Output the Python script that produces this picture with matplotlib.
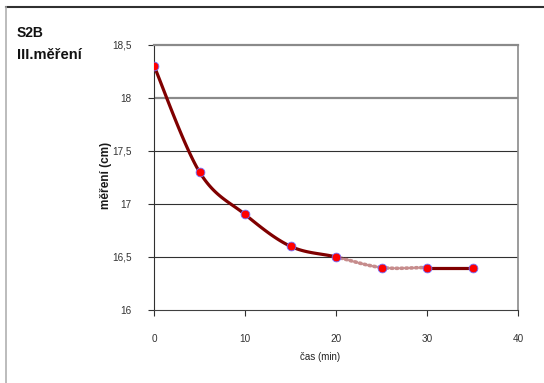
import matplotlib.pyplot as plt
import numpy as np
from matplotlib.lines import Line2D

plt.rcParams['font.family'] = ['Liberation Sans', 'DejaVu Sans']

cas = [0, 5, 10, 15, 20, 25, 30, 35]
mereni = [18.3, 17.3, 16.9, 16.6, 16.5, 16.4, 16.4, 16.4]
y_ticks = [16, 16.5, 17, 17.5, 18, 18.5]
y_labels = ['16', '16,5', '17', '17,5', '18', '18,5']
x_ticks = [0, 10, 20, 30, 40]


def hladka_krivka(x, y, n=40):
    # Bezierovy useky jako "vyhlazena cara" v Excelu
    p = np.column_stack([x, y]).astype(float)
    useky = []
    for i in range(len(p) - 1):
        p0 = p[i - 1] if i > 0 else p[i]
        p3 = p[i + 2] if i + 2 < len(p) else p[i + 1]
        c1 = p[i] + (p[i + 1] - p0) / 6
        c2 = p[i + 1] - (p3 - p[i]) / 6
        t = np.linspace(0, 1, n)[:, None]
        b = ((1 - t) ** 3 * p[i] + 3 * (1 - t) ** 2 * t * c1
             + 3 * (1 - t) * t ** 2 * c2 + t ** 3 * p[i + 1])
        useky.append(b)
    return useky


fig = plt.figure(figsize=(5.44, 3.83), dpi=100)
ax = fig.add_axes([154 / 544, 73 / 383, 364 / 544, 265.5 / 383])

useky = hladka_krivka(cas, mereni)
for i, b in enumerate(useky):
    if i in (4, 5):
        ax.plot(b[:, 0], b[:, 1], color='#a04040', lw=2.6,
                linestyle=(0, (0.45, 0.9)), dash_capstyle='round',
                alpha=0.6, zorder=3)
    else:
        ax.plot(b[:, 0], b[:, 1], color='#800000', lw=2.3,
                solid_capstyle='round', zorder=3)

ax.plot(cas, mereni, linestyle='none', marker='o', markersize=6.3,
        markerfacecolor='#ff0000', markeredgecolor='#7070ff',
        markeredgewidth=0.6, zorder=4)

ax.set_xlim(0, 40)
ax.set_ylim(16, 18.5)
ax.set_xticks(x_ticks)
ax.set_yticks(y_ticks)
ax.set_yticklabels(y_labels)

# vodorovna mrizka
for yv in y_ticks[1:-1]:
    if yv == 18:
        ax.axhline(yv, color='#8a8a8a', lw=1.6, zorder=1)
    else:
        ax.axhline(yv, color='#303030', lw=0.8, zorder=1)

ax.spines['top'].set_color('#8a8a8a')
ax.spines['top'].set_linewidth(1.6)
ax.spines['right'].set_color('#8a8a8a')
ax.spines['right'].set_linewidth(1.2)
ax.spines['bottom'].set_color('#404040')
ax.spines['left'].set_color('#303030')

ax.tick_params(axis='both', direction='out', length=4, width=0.8,
               colors='#303030', labelsize=7.2, labelcolor='#333333')
ax.tick_params(axis='y', pad=12)
ax.tick_params(axis='x', pad=13)

fig.text(320 / 544, 1 - 357 / 383, 'čas (min)', ha='center', va='center',
         fontsize=7, color='#222222')
fig.text(106 / 544, 1 - 175 / 383, 'měření (cm)', ha='center', va='center',
         rotation=90, fontsize=8.5, fontweight='bold', color='#1a1a1a')

fig.text(17 / 544, 1 - 33 / 383, 'S2B', ha='left', va='center',
         fontsize=10, fontweight='bold', color='#111111')
fig.text(17 / 544, 1 - 55 / 383, 'III.měření', ha='left', va='center',
         fontsize=10.5, fontweight='bold', color='#111111')

# ramecek grafu
fig.add_artist(Line2D([6 / 544, 1], [1 - 7 / 383, 1 - 7 / 383],
                      transform=fig.transFigure, color='#303030', lw=1.5))
fig.add_artist(Line2D([6 / 544, 6 / 544], [0, 1 - 7 / 383],
                      transform=fig.transFigure, color='#b0b0b0', lw=1.2))

fig.savefig('out.png', dpi=100)
